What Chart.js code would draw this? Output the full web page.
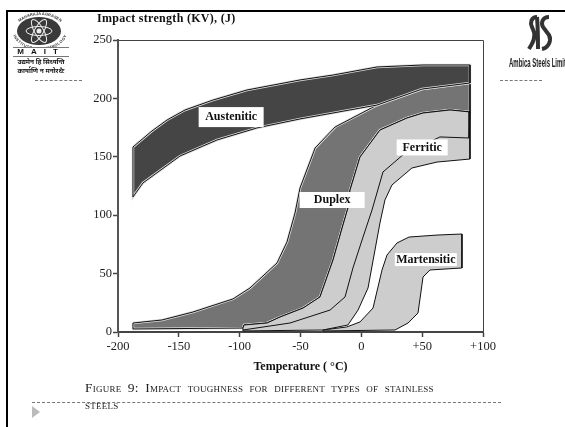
<!DOCTYPE html>
<html>
<head>
<meta charset="utf-8">
<title>Impact toughness of stainless steels</title>
<script src="https://cdn.jsdelivr.net/npm/chart.js@4/dist/chart.umd.min.js"></script>
<style>
  html, body { margin: 0; padding: 0; background: #fff; }
  #page { position: relative; width: 565px; height: 427px; overflow: hidden; font-family: "Liberation Serif", serif; color: #111; filter: blur(.35px); }
  #page canvas { position: absolute; left: 0; top: 0; }
  .abs { position: absolute; white-space: nowrap; }
  .bar { position: absolute; background: #000; }
  .dash { position: absolute; height: 0; border-top: 1px dashed #777; }
  #yTitle { left: 97px; top: 11px; font-weight: bold; font-size: 12px; letter-spacing: .3px; }
  #caption1, #caption2 { left: 85px; font-size: 13.5px; font-variant: small-caps; color: #222; word-spacing: 2.7px; letter-spacing: .25px; }
  #caption1 { top: 380px; }
  #caption2 { top: 397px; }
  #ambica { left: 509px; top: 56px; font-family: "Liberation Sans", sans-serif; font-weight: bold; font-size: 12px; transform-origin: left top; transform: scaleX(.5); color: #222; }
  #mait { left: 13px; top: 47px; width: 56px; text-align: center; font-family: "Liberation Sans", sans-serif; font-weight: bold; font-size: 8px; letter-spacing: 7px; border-top: 1px solid #777; border-bottom: 1px solid #777; line-height: 8px; }
  .hindi { left: 13px; width: 56px; text-align: center; font-family: "Noto Sans", "DejaVu Sans", sans-serif; font-weight: bold; font-size: 6.5px; }
</style>
</head>
<body>
<div id="page">
  <canvas id="impactChart" width="565" height="427"></canvas>

  <div class="bar" style="left:6px;top:10px;width:559px;height:2px"></div>
  <div class="bar" style="left:6px;top:10px;width:2px;height:417px"></div>

  <svg class="abs" style="left:12px;top:12px" width="56" height="36" viewBox="0 0 56 36">
    <defs>
      <path id="arcTop" d="M3 20 A 25 17 0 0 1 53 20"/>
      <path id="arcBottom" d="M3 17 A 25 18 0 0 0 53 17"/>
    </defs>
    <ellipse cx="27" cy="19" rx="22" ry="14" fill="#3a3a3a"/>
    <g fill="none" stroke="#eee" stroke-width="1">
      <ellipse cx="27" cy="19" rx="13" ry="4.5"/>
      <ellipse cx="27" cy="19" rx="13" ry="4.5" transform="rotate(60 27 19)"/>
      <ellipse cx="27" cy="19" rx="13" ry="4.5" transform="rotate(-60 27 19)"/>
    </g>
    <circle cx="27" cy="19" r="2.5" fill="#eee"/>
    <text font-size="4" font-weight="bold" font-family="Liberation Sans" fill="#333"><textPath href="#arcTop" startOffset="50%" text-anchor="middle">MAHARAJA AGRASEN</textPath></text>
    <text font-size="4" font-weight="bold" font-family="Liberation Sans" fill="#333"><textPath href="#arcBottom" startOffset="50%" text-anchor="middle" dominant-baseline="hanging">INSTITUTE OF TECHNOLOGY</textPath></text>
  </svg>
  <div class="abs" id="mait">MAIT</div>
  <div class="abs hindi" style="top:57px">उद्यमेन हि सिध्यन्ति</div>
  <div class="abs hindi" style="top:66px">कार्याणि न मनोरथैः</div>
  <div class="dash" style="left:35px;top:80px;width:47px"></div>

  <svg class="abs" style="left:526px;top:14px" width="28" height="38" viewBox="0 0 28 38" fill="none" stroke="#333" stroke-width="4">
    <path d="M11 3 C5 3 4 9 6 13 L8 18 C10 24 6 30 3 35"/>
    <path d="M11 3 C12 15 12 25 12 35"/>
    <path d="M23 3 C16 3 15 9 17 13 L23 21 C26 27 22 34 16 35"/>
  </svg>
  <div class="abs" id="ambica">Ambica Steels Limited</div>
  <div class="dash" style="left:500px;top:80px;width:42px"></div>

  <div class="abs" id="yTitle">Impact strength (KV), (J)</div>
  <div class="abs" id="caption1">Figure 9: Impact toughness for different types of stainless</div>
  <div class="abs" id="caption2">steels</div>
  <div class="dash" style="left:32px;top:402px;width:469px"></div>
  <svg class="abs" style="left:32px;top:406px" width="8" height="12"><path d="M0 0 L8 6 L0 12 Z" fill="#bbb"/></svg>
</div>

<script>
// values, temperature in degC, impact strength in J
const xTickLabels = ['-200', '-150', '-100', '-50', '0', '+50', '+100'];
const yTickLabels = ['0', '50', '100', '150', '200', '250'];

const austeniticTop = [[-187.7,158.4],[-172.1,172.1],[-159.7,181.5],[-144.9,190.1],[-121.9,198.6],[-94,207.2],[-50.4,215.8],[-23.3,220],[12.9,226.9],[50.7,228.6],[89.3,228.6]];
const austeniticLow = [[-187.7,115.6],[-179.5,127.6],[-149,150.7],[-118.6,164.4],[-85.8,174.7],[-50.4,182.4],[-23.3,187.5],[12.9,194.3],[49.9,208],[89.3,213.2]];

const duplexTop = [[-187.7,7.7],[-163.8,10.3],[-138.4,17.1],[-105.5,28.3],[-91.5,37.7],[-69.3,59.1],[-61.1,77.1],[-54.5,101.9],[-50.4,123.3],[-38,157.5],[-21.6,175.5],[12.9,194.3],[49.9,208],[89.3,213.2]];
const duplexLow = [[-187.7,2.6],[-97.3,3.4],[-96.5,6],[-77.5,7.7],[-66.9,12.8],[-47.9,20.5],[-34,30],[-23.3,61.6],[-15.1,91.6],[-11,106.2],[-9.3,121.6],[-1.1,149.8],[15.3,172.9],[37.5,183.2],[50.7,187.5],[72.9,190.1],[89.3,188.4]];

const ferriticTop = [[-97.3,3.4],[-96.5,6],[-77.5,7.7],[-66.9,12.8],[-47.9,20.5],[-34,30],[-23.3,61.6],[-15.1,91.6],[-11,106.2],[-9.3,121.6],[-1.1,149.8],[15.3,172.9],[37.5,183.2],[50.7,187.5],[72.9,190.1],[89.3,188.4]];
const ferriticLow = [[-97.3,0.9],[-31.5,1.7],[-11,6],[-2.7,18.8],[5.5,37.7],[15.3,93.3],[19.4,113],[25.2,125.9],[41.6,140.4],[62.2,145.5],[89.3,148.1]];
const ferriticInner = [[89.3,188.4],[88.5,166.1],[64.6,167],[34,151.5],[17.8,137],[8.8,104.5],[1.4,81.3],[-6.9,54.8],[-13.4,30],[-25.7,18.8],[-58.6,7.7],[-91.5,2.6],[-97.3,1.7]];

const martensiticTop = [[-31.5,1.7],[-12,4.3],[-1.1,8.6],[9.6,20.5],[17,53.1],[21.1,65.9],[29.3,76.2],[39.2,81.3],[62.2,83],[82.7,83.9]];
const martensiticLow = [[-31.5,0.9],[27.7,1.7],[38.4,7.7],[46.6,16.3],[50.7,47.1],[56.4,53.1],[82.7,54.8]];

function pts(list) {
  return list.map(p => ({ x: p[0], y: p[1] }));
}

// one band = outline on top of a fill between its top and low curves
function band(top, low, color, halo) {
  const closed = pts(top.concat(low.slice().reverse(), [top[0]]));
  const line = (data, c, w) => ({ data, borderColor: c, borderWidth: w, showLine: true, pointRadius: 0, tension: 0, fill: false });
  return [
    line(closed, '#111', 1),
    line(closed, halo, 2.5),
    { data: pts(top), showLine: true, pointRadius: 0, borderWidth: 0, backgroundColor: color, fill: '+1' },
    { data: pts(low), showLine: true, pointRadius: 0, borderWidth: 0, fill: false },
  ];
}

const bandLabels = [
  { text: 'Austenitic', x: -107, y: 184, w: 65, h: 20 },
  { text: 'Duplex', x: -24, y: 113, w: 65, h: 16 },
  { text: 'Ferritic', x: 50, y: 158, w: 51, h: 16 },
  { text: 'Martensitic', x: 53, y: 62, w: 62, h: 13 },
];

// axes frame and the white name boxes
const framePlugin = {
  id: 'frame',
  afterDatasetsDraw(chart) {
    const { ctx, chartArea: a, scales } = chart;
    ctx.save();
    ctx.strokeStyle = '#444';
    ctx.lineWidth = 1;
    ctx.beginPath();
    ctx.moveTo(a.left, a.top + 0.5);
    ctx.lineTo(a.right + 0.5, a.top + 0.5);
    ctx.lineTo(a.right + 0.5, a.bottom);
    ctx.stroke();
    ctx.font = 'bold 12px "Liberation Serif"';
    ctx.textAlign = 'center';
    ctx.textBaseline = 'middle';
    bandLabels.forEach(l => {
      const px = scales.x.getPixelForValue(l.x);
      const py = scales.y.getPixelForValue(l.y);
      ctx.fillStyle = '#fff';
      ctx.fillRect(px - l.w / 2, py - l.h / 2, l.w, l.h);
      ctx.fillStyle = '#111';
      ctx.fillText(l.text, px, py);
    });
    ctx.restore();
  }
};

const tickFont = { family: '"Liberation Serif"', size: 12.5 };

new Chart(document.getElementById('impactChart'), {
  type: 'scatter',
  data: {
    datasets: [
      ...band(martensiticTop, martensiticLow, '#cdcdcd', 'rgba(0,0,0,0)'),
      { data: pts(ferriticInner), showLine: true, pointRadius: 0, borderColor: '#111', borderWidth: 1, fill: false },
      ...band(austeniticTop, austeniticLow, '#454545', '#ddd'),
      ...band(ferriticTop, ferriticLow, '#cdcdcd', 'rgba(0,0,0,0)'),
      ...band(duplexTop, duplexLow, '#747474', '#ddd'),
    ]
  },
  plugins: [framePlugin],
  options: {
    responsive: false,
    animation: false,
    layout: { padding: { top: 40, right: 82, bottom: 53 } },
    plugins: {
      legend: { display: false },
      tooltip: { enabled: false },
      filler: { drawTime: 'beforeDatasetDraw' },
    },
    scales: {
      x: {
        type: 'linear', min: -200, max: 100,
        grid: { drawOnChartArea: false, tickLength: 5, tickColor: '#444', tickWidth: 1.5 },
        border: { color: '#444', width: 2 },
        afterFit: s => { s.height = 42; },
        afterBuildTicks: s => { s.ticks = xTickLabels.map(t => ({ value: Number(t) })); },
        ticks: {
          color: '#222', font: tickFont, maxRotation: 0, autoSkip: false, padding: 2,
          callback: (v, i) => xTickLabels[i],
        },
        title: {
          display: true, text: 'Temperature ( °C)', color: '#111',
          font: { family: '"Liberation Serif"', size: 12, weight: 'bold' },
          padding: { top: 9, bottom: 0 },
        },
      },
      y: {
        type: 'linear', min: 0, max: 250,
        grid: { drawOnChartArea: false, tickLength: 5, tickColor: '#444', tickWidth: 1.5 },
        border: { color: '#555', width: 2 },
        afterFit: s => { s.width = 118; },
        afterBuildTicks: s => { s.ticks = yTickLabels.map(t => ({ value: Number(t) })); },
        ticks: {
          color: '#222', font: tickFont, padding: 1,
          callback: (v, i) => yTickLabels[i],
        },
      },
    },
  },
});
</script>
</body>
</html>
